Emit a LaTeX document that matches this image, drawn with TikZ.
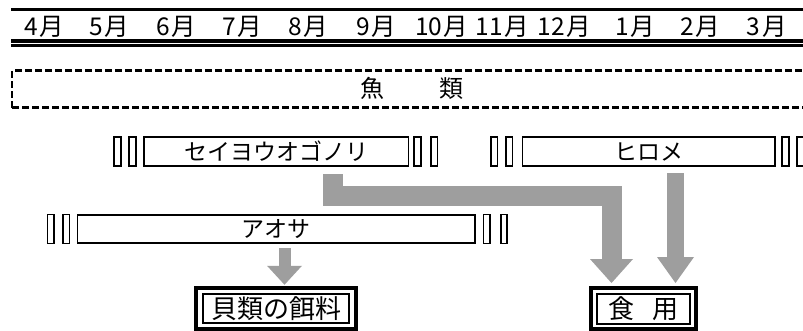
\documentclass[tikz,border=0pt]{standalone}
\usepackage{fontspec}
\setmainfont{Noto Sans CJK JP}
\usetikzlibrary{arrows.meta}
\definecolor{arrowgray}{RGB}{158,158,158}
\begin{document}
\begin{tikzpicture}[x=1pt,y=-1pt,
  every node/.style={inner sep=0pt, outer sep=0pt},
  bar/.style={draw, line width=1.6pt, minimum height=29pt, font=\fontsize{23}{24}\selectfont},
  tick/.style={draw, line width=1.6pt, minimum height=29pt, minimum width=6.5pt},
  mon/.style={font=\fontsize{24.5}{26}\selectfont},
  inbox/.style={draw, line width=2pt, font=\fontsize{26}{28}\selectfont},
  outbox/.style={draw, line width=4pt},
  fishline/.style={line width=2.2pt, dash pattern=on 6.5pt off 3.5pt},
  blk/.style={draw=arrowgray, line join=miter, line cap=butt}
]
\useasboundingbox (0,0) rectangle (803,330);
\fill[white] (0,0) rectangle (803,330);

% month header rules
\draw[line width=2.7pt] (11,9.3) -- (803,9.3);
\draw[line width=3.2pt] (11,41) -- (803,41);
\draw[line width=2.5pt] (11,45.5) -- (803,45.5);
\foreach \x/\m [count=\i] in {44.2/4,109.5/5,175.8/6,242.2/7,308.5/8,376.7/9,441.7/10,502.2/11,564.2/12,635/1,700/2,766.7/3}
  \node[mon] (m\i) at (\x,27.2) {\m\hspace{1.5pt}月};

% fish band
\draw[fishline] (12,107.5) -- (12,70.5) -- (803,70.5);
\draw[fishline] (12,107.5) -- (803,107.5);
\node[font=\fontsize{24}{26}\selectfont] (fish) at (412,88) {魚\hspace{56pt}類};

% row 1
\node[tick] (s1) at (117.5,151.5) {};
\node[tick] (s2) at (132.5,151.5) {};
\node[bar, minimum width=264.5pt] (sei) at (276.25,151.5) {セイヨウオゴノリ};
\node[tick] (s3) at (417.5,151.5) {};
\node[tick] (s4) at (434.25,151.5) {};
\node[tick] (h1) at (494.25,151.5) {};
\node[tick] (h2) at (509.25,151.5) {};
\node[bar, minimum width=252.5pt] (hiro) at (648.75,151.5) {ヒロメ};
\node[tick] (h3) at (785.5,151.5) {};
\node[tick] (h4) at (800.5,151.5) {};

% row 2
\node[tick] (a1) at (50.75,229) {};
\node[tick] (a2) at (66.25,229) {};
\node[bar, minimum width=397.5pt, minimum height=28pt] (aosa) at (276.25,229) {アオサ};
\node[tick] (a3) at (486.75,229) {};
\node[tick] (a4) at (504,229) {};

% destination boxes
\node[inbox, minimum width=146pt, minimum height=29.5pt] (feed) at (276,308.5) {貝類の餌料};
\draw[outbox] ([shift={(-6.8,-5.8)}]feed.north west) rectangle ([shift={(7.2,5.3)}]feed.south east);
\node[inbox, minimum width=92.3pt, minimum height=30pt] (food) at (643.35,308.5) {食\hspace{18pt}用\hspace{10pt}};
\draw[outbox] ([shift={(-6,-5.6)}]food.north west) rectangle ([shift={(6,5.3)}]food.south east);

% arrows
\coordinate (ss) at ([shift={(56.75,8)}]sei.south);
\coordinate (st) at ([shift={(-31.85,-10.5)}]food.north);
\coordinate (hs) at ([shift={(26.75,7)}]hiro.south);
\coordinate (ht) at ([shift={(32.15,-10.5)}]food.north);
\coordinate (as) at ([shift={(8.25,5)}]aosa.south);
\coordinate (at) at ([shift={(8.5,-9)}]feed.north);

\draw[blk, line width=20pt, -{Triangle[width=43pt,length=24pt,line width=0pt,fill=arrowgray]}] (ss) -- ++(0,22) -| (st);
\draw[blk, line width=17pt, -{Triangle[width=37pt,length=26pt,line width=0pt,fill=arrowgray]}] (hs) -- (ht);
\draw[blk, line width=12pt, -{Triangle[width=35pt,length=19pt,line width=0pt,fill=arrowgray]}] (as) -- (at);
\end{tikzpicture}
\end{document}
